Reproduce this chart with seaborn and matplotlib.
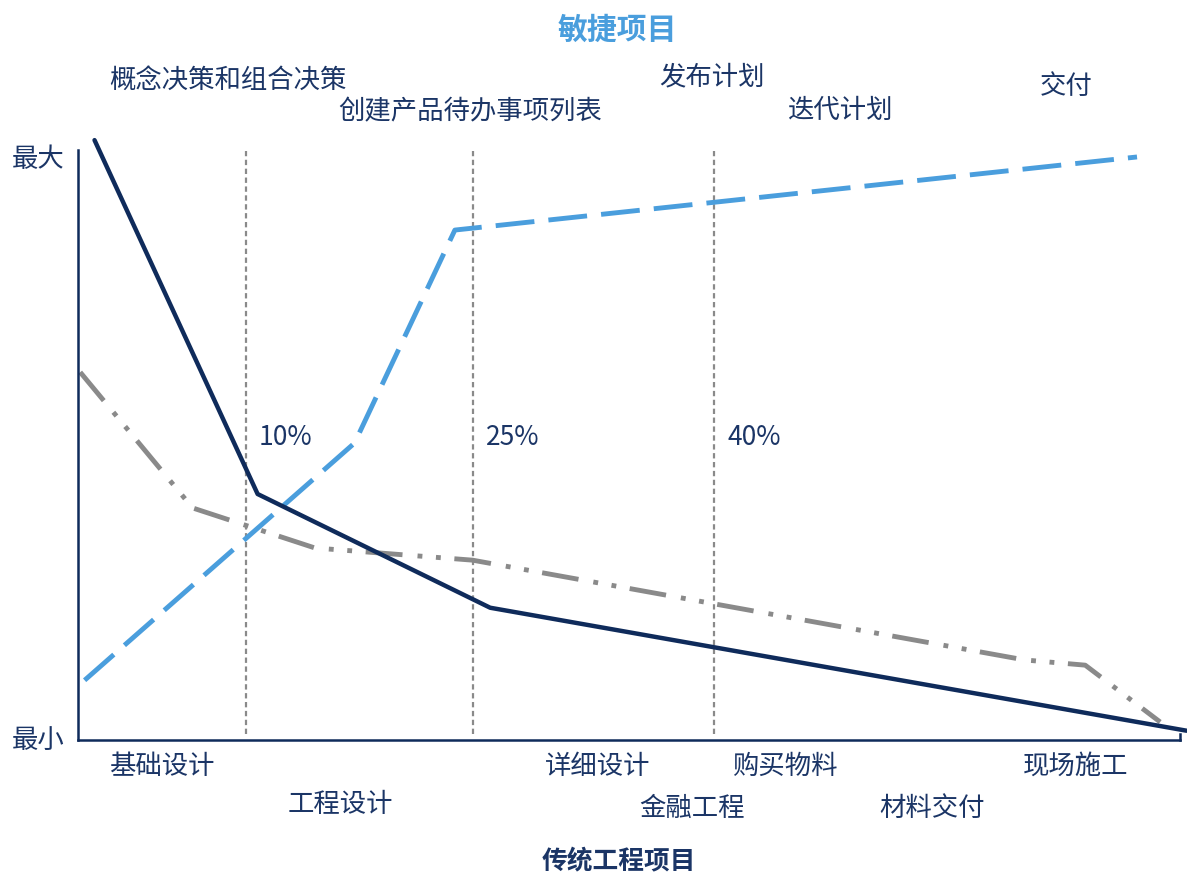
import matplotlib
matplotlib.use("Agg")
import matplotlib.pyplot as plt
import seaborn as sns
import pandas as pd

# Progress along the project (0-100) and relative value (0 = 最小, 100 = 最大)
traditional_x = [1.5, 16.3, 37.4, 100.6]
traditional_y = [103.4, 42.4, 22.8, 1.6]

agile_x = [0.6, 25.1, 34.2, 96.1]
agile_y = [10.3, 51.2, 87.9, 100.5]

hybrid_x = [0.2, 10.4, 21.5, 35.8, 85.9, 91.4, 98.2]
hybrid_y = [63.4, 40.0, 33.1, 31.0, 13.8, 12.9, 3.1]

phase_x = [15.2, 35.8, 57.7]
phase_labels = ["10%", "25%", "40%"]

y_tick_values = [100, 0]
y_tick_labels = ["最大", "最小"]

agile_steps = ["概念决策和组合决策", "创建产品待办事项列表", "发布计划", "迭代计划", "交付"]
traditional_steps = ["基础设计", "工程设计", "详细设计", "金融工程", "购买物料", "材料交付", "现场施工"]

NAVY = "#0F2B5B"
TEXT = "#1B3566"
BLUE = "#4A9EDD"
GRAY = "#8A8A8A"

sns.set_theme(style="white")
plt.rcParams["font.family"] = ["Noto Sans CJK SC", "DejaVu Sans"]

W, H = 1187, 877
fig = plt.figure(figsize=(W / 100, H / 100), dpi=100)
ax = fig.add_axes([78 / W, (H - 740) / H, 1102 / W, 590 / H])

df_trad = pd.DataFrame({"x": traditional_x, "y": traditional_y})
df_agile = pd.DataFrame({"x": agile_x, "y": agile_y})
df_hybrid = pd.DataFrame({"x": hybrid_x, "y": hybrid_y})

sns.lineplot(data=df_hybrid, x="x", y="y", ax=ax, estimator=None, sort=False,
             color=GRAY, linewidth=3.5, clip_on=False,
             linestyle=(0, (7.6, 3.1, 1.0, 2.8, 1.0, 2.8)))
sns.lineplot(data=df_agile, x="x", y="y", ax=ax, estimator=None, sort=False,
             color=BLUE, linewidth=3.5, clip_on=False,
             linestyle=(0, (8.0, 2.9)))
sns.lineplot(data=df_trad, x="x", y="y", ax=ax, estimator=None, sort=False,
             color=NAVY, linewidth=3.2, clip_on=False)

for px in phase_x:
    ax.plot([px, px], [1.0, 101.5], color=GRAY, linewidth=1.6,
            linestyle=(0, (2.4, 1.6)), zorder=0)
for px, lab in zip(phase_x, phase_labels):
    ax.text(px + 1.2, 52.2, lab, color=TEXT, fontsize=19, ha="left", va="center")

ax.set_xlim(0, 100)
ax.set_ylim(0, 101.7)
ax.set_xticks([])
ax.set_yticks([])
ax.set_xlabel("")
ax.set_ylabel("")

ax.spines["top"].set_visible(False)
for side in ["left", "bottom", "right"]:
    ax.spines[side].set_color(NAVY)
    ax.spines[side].set_linewidth(1.8)
ax.spines["right"].set_bounds(0, 1.0)

# y-axis end labels
for val, lab in zip(y_tick_values, y_tick_labels):
    ax.text(-3.6, val, lab, transform=ax.transData, color=TEXT, fontsize=19,
            ha="center", va="center", clip_on=False)


def ftext(px, py, s, **kw):
    fig.text(px / W, 1 - py / H, s, ha="center", va="center", **kw)


ftext(617, 30, "敏捷项目", color=BLUE, fontsize=21.5, fontweight="bold")
agile_pos = [(228, 80), (470, 112), (712, 77), (840, 110), (1066, 87)]
for (px, py), s in zip(agile_pos, agile_steps):
    ftext(px, py, s, color=TEXT, fontsize=19)

trad_pos = [(162, 766), (340, 805), (598, 766), (692, 808), (786, 766), (932, 808), (1076, 766)]
for (px, py), s in zip(trad_pos, traditional_steps):
    ftext(px, py, s, color=TEXT, fontsize=19)
ftext(619, 862, "传统工程项目", color=TEXT, fontsize=18.5, fontweight="bold")

fig.savefig("out.png", dpi=100, facecolor="white")
